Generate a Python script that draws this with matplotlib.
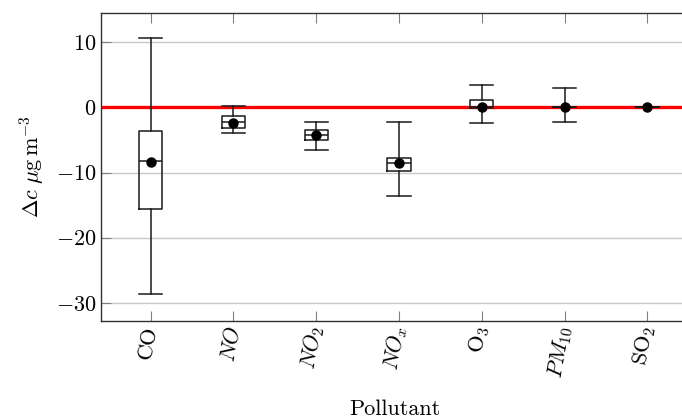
import numpy as np
import matplotlib
matplotlib.use('Agg')
import matplotlib.pyplot as plt

plt.rcParams['font.family'] = 'serif'
plt.rcParams['font.serif'] = ['cmr10']
plt.rcParams['mathtext.fontset'] = 'cm'
plt.rcParams['axes.formatter.use_mathtext'] = True

# values (in ug m^-3)
pollutants = ['CO', '$NO$', '$NO_2$', '$NO_x$', 'O$_3$', '$PM_{10}$', 'SO$_2$']
whisker_low = [-28.6, -3.9, -6.5, -13.6, -2.4, -2.2, 0.0]
q1 = [-15.6, -3.1, -5.0, -9.8, -0.05, 0.0, 0.0]
median = [-8.3, -2.3, -4.2, -8.5, 0.0, 0.05, 0.0]
q3 = [-3.6, -1.3, -3.4, -7.7, 1.1, 0.1, 0.0]
whisker_high = [10.6, 0.15, -2.3, -2.2, 3.5, 3.0, 0.0]
mean = [-8.4, -2.4, -4.3, -8.5, 0.1, 0.1, 0.0]

stats = []
for i, name in enumerate(pollutants):
    stats.append(dict(label=name, whislo=whisker_low[i], q1=q1[i], med=median[i],
                      q3=q3[i], whishi=whisker_high[i], mean=mean[i]))

fig = plt.figure(figsize=(6.82, 4.19), dpi=100)
ax = fig.add_axes([101 / 682, 1 - 321 / 419, 1.01 - 101 / 682, (321 - 13) / 419])

ax.grid(True, axis='y', color='#c8c8c8', lw=1.0, zorder=0)
ax.set_axisbelow(True)
ax.axhline(0, color='#ff0000', lw=2.4, zorder=2)

positions = np.arange(1, len(pollutants) + 1)
ax.bxp(stats, positions=positions, widths=0.28, showmeans=True, showfliers=False,
       boxprops=dict(color='#1a1a1a', lw=1.1),
       whiskerprops=dict(color='#1a1a1a', lw=1.1),
       capprops=dict(color='#1a1a1a', lw=1.1),
       medianprops=dict(color='#1a1a1a', lw=1.1),
       meanprops=dict(marker='o', markerfacecolor='black', markeredgecolor='black',
                      markersize=6.5),
       capwidths=0.28, zorder=3)

ax.set_xlim(0.4, 7.5)
ax.set_ylim(-32.8, 14.5)
ax.set_yticks([-30, -20, -10, 0, 10])
ax.set_xticks(positions)
ax.set_xticklabels(pollutants, rotation=80, ha='right', va='center',
                   rotation_mode='anchor', fontsize=16)
ax.tick_params(axis='y', labelsize=16)
ax.tick_params(direction='in', length=7, color='#808080', top=True, right=False)
for s in ax.spines.values():
    s.set_color('#333333')
    s.set_linewidth(1.0)

ax.set_ylabel(r'$\Delta c\ \mathrm{\mu g\,m^{-3}}$', fontsize=16, labelpad=6)
ax.set_xlabel('Pollutant', fontsize=16, labelpad=14)

fig.savefig('out.png', dpi=100)
